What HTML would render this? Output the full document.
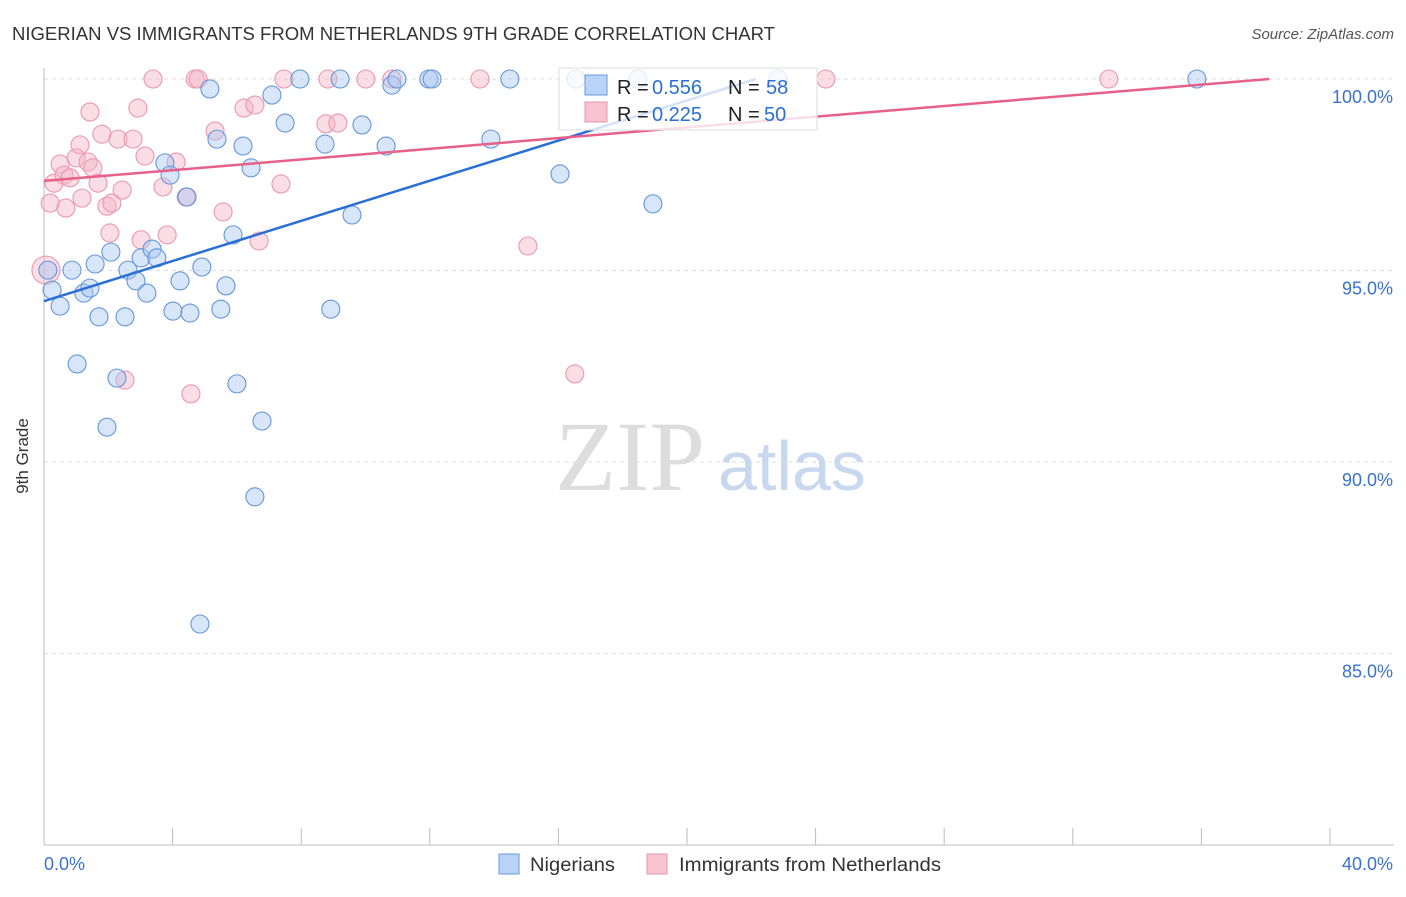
<!DOCTYPE html>
<html><head><meta charset="utf-8"><style>
body{margin:0;background:#fff;font-family:"Liberation Sans",sans-serif}
svg text{font-family:"Liberation Sans",sans-serif}
</style></head><body>
<svg id="chart" width="1406" height="892" xmlns="http://www.w3.org/2000/svg">
<text x="12" y="40" font-size="18" fill="#333" textLength="763" lengthAdjust="spacingAndGlyphs">NIGERIAN VS IMMIGRANTS FROM NETHERLANDS 9TH GRADE CORRELATION CHART</text>
<text x="1394" y="39" font-size="15" fill="#555" text-anchor="end" font-style="italic">Source: ZipAtlas.com</text>
<g id="grid"></g>
<text x="555" y="490" font-size="100" fill="#ddd" style="font-family:'Liberation Serif',serif">ZIP</text>
<text x="718" y="490" font-size="70" fill="#c8d8ef">atlas</text>
<g id="pts"></g>
<g id="lines"></g>
<text x="28" y="456" font-size="17" fill="#333" transform="rotate(-90 28 456)" text-anchor="middle">9th Grade</text>
<g>
<rect x="559" y="68" width="258" height="62" fill="#fff" fill-opacity="0.8" stroke="#ddd"/>
<rect x="585" y="75" width="22" height="20" fill="#b8d3f5" stroke="#6a9ae0"/>
<rect x="585" y="102" width="22" height="20" fill="#f9c4d2" stroke="#e895ae"/>
<text x="617" y="94" font-size="20" fill="#222">R =</text>
<text x="652" y="94" font-size="20" fill="#2a6fd6">0.556</text>
<text x="728" y="94" font-size="20" fill="#222">N =</text>
<text x="766" y="94" font-size="20" fill="#2a6fd6">58</text>
<text x="617" y="121" font-size="20" fill="#222">R =</text>
<text x="652" y="121" font-size="20" fill="#2a6fd6">0.225</text>
<text x="728" y="121" font-size="20" fill="#222">N =</text>
<text x="764" y="121" font-size="20" fill="#2a6fd6">50</text>
</g>
<g>
<rect x="499" y="854" width="20" height="20" fill="#b8d3f5" stroke="#6a9ae0"/>
<text x="530" y="871" font-size="19" fill="#333" textLength="85" lengthAdjust="spacingAndGlyphs">Nigerians</text>
<rect x="647" y="854" width="20" height="20" fill="#f9c4d2" stroke="#e895ae"/>
<text x="679" y="871" font-size="19" fill="#333" textLength="262" lengthAdjust="spacingAndGlyphs">Immigrants from Netherlands</text>
</g>
</svg>
<script>
const blueX=[.12,.25,.50,.87,1.03,1.24,1.43,1.59,1.71,1.96,2.08,2.27,2.52,2.61,2.86,3.02,3.20,3.36,3.51,3.76,3.92,4.01,4.23,4.45,4.54,4.85,4.91,5.16,5.38,5.50,5.66,5.88,6.00,6.19,6.44,6.56,6.78,7.09,7.50,7.96,8.74,8.92,9.21,9.58,9.89,10.64,10.82,10.98,11.97,12.07,13.90,14.49,16.05,16.55,18.94,18.47,22.83,35.86];
const blueY=[95.01,94.49,94.07,95.01,92.56,94.41,94.54,95.17,93.79,90.91,95.48,92.19,93.79,95.01,94.73,95.33,94.41,95.56,95.33,97.81,97.49,93.94,94.73,96.92,93.89,85.77,95.09,99.74,98.43,93.99,94.60,95.93,92.04,98.25,97.68,89.09,91.07,99.58,98.85,100,98.30,93.99,100,96.45,98.80,98.25,99.84,100,100,100,98.43,100,97.52,100,96.74,100,100,100];
const pinkX=[.06,.19,.31,.50,.62,.68,.81,1.00,1.12,1.18,1.37,1.43,1.52,1.68,1.80,1.96,2.05,2.11,2.30,2.43,2.52,2.77,2.92,3.02,3.14,3.39,3.70,3.83,4.11,4.42,4.57,4.70,4.79,5.32,5.57,6.22,6.56,6.69,7.37,7.46,8.83,8.77,9.14,10.01,10.82,13.56,15.05,16.51,24.32,33.12];
const pinkY=[95.01,96.76,97.28,97.78,97.49,96.63,97.42,97.94,98.28,96.89,97.83,99.14,97.68,97.28,98.56,96.68,95.98,96.76,98.43,97.10,92.14,98.43,99.24,95.80,97.99,100,97.18,95.93,97.83,96.92,91.78,100,100,98.64,96.53,99.24,99.32,95.77,97.26,100,100,98.83,98.85,100,100,100,95.64,92.30,100,100];
const blueTrend=[94.2,0.262];
const pinkTrend=[97.34,0.0698];
const xTicks=["0.0%","40.0%"];
const yTicks=[100,95,90,85];
const NS="http://www.w3.org/2000/svg";
const sx=v=>44+v*(1286/40);
const sy=v=>79+(100-v)*38.3;
function mk(tag,attrs,parent){const e=document.createElementNS(NS,tag);for(const k in attrs)e.setAttribute(k,attrs[k]);parent.appendChild(e);return e;}
const grid=document.getElementById('grid');
yTicks.forEach(t=>{
 const l=mk('line',{x1:44,x2:1394,y1:sy(t),y2:sy(t),stroke:'#ddd','stroke-dasharray':'4,4'},grid);
 
 
 const tx=mk('text',{x:1393,y:sy(t)+24,'font-size':18,fill:'#3a72d0','text-anchor':'end'},grid);
 tx.textContent=t.toFixed(1)+'%';
 
 
});
mk('line',{x1:44,x2:44,y1:68,y2:845,stroke:'#bbb'},grid);
mk('line',{x1:44,x2:1394,y1:845,y2:845,stroke:'#bbb'},grid);
for(let i=0;i<=10;i++){const x=sx(i*4);const t=mk('line',{x1:x,x2:x,y1:828,y2:845,stroke:'#bbb'},grid);}
const xl=[[0,'start',44],[1,'end',1393]];
xl.forEach(([i,a,x])=>{const t=mk('text',{x:x,y:870,'font-size':18,fill:'#3a72d0','text-anchor':a},grid);t.textContent=xTicks[i];});
const pts=document.getElementById('pts');
pinkX.forEach((x,i)=>{const c=mk('circle',{cx:sx(x),cy:sy(pinkY[i]),r:i===0?14:9,fill:'#f5b3c6','fill-opacity':.45,stroke:'#eb97b0','stroke-width':1.1},pts);});
blueX.forEach((x,i)=>{const c=mk('circle',{cx:sx(x),cy:sy(blueY[i]),r:9,fill:'#a8c8f2','fill-opacity':.45,stroke:'#6496dc','stroke-width':1.1},pts);});
const lines=document.getElementById('lines');
const be=(100-blueTrend[0])/blueTrend[1];
const bl=mk('line',{x1:sx(0),y1:sy(blueTrend[0]),x2:sx(be),y2:sy(100),stroke:'#2a6fd6','stroke-width':2.5},lines);


const pe=(100-pinkTrend[0])/pinkTrend[1];
const pl=mk('line',{x1:sx(0),y1:sy(pinkTrend[0]),x2:sx(pe),y2:sy(100),stroke:'#e6608a','stroke-width':2.5},lines);


</script>
</body></html>
